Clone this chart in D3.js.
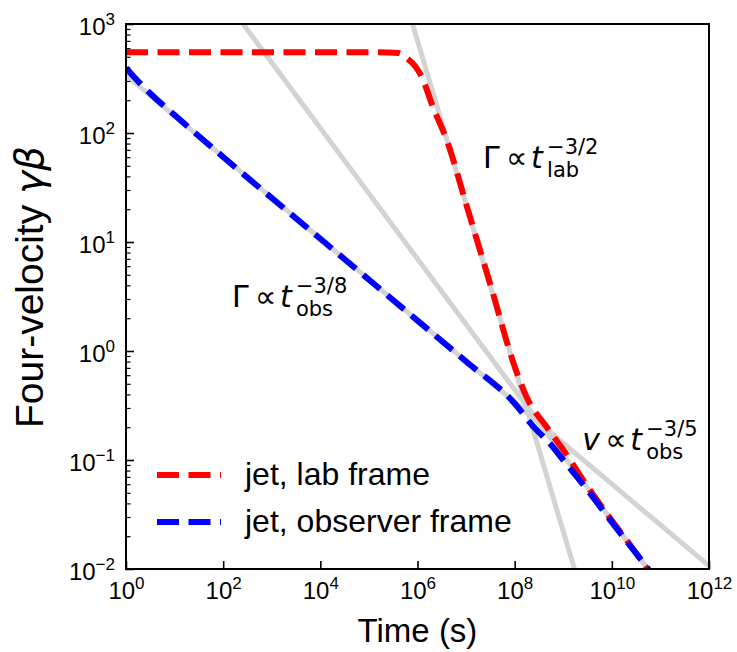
<!DOCTYPE html>
<html>
<head>
<meta charset="utf-8">
<script src="https://cdn.jsdelivr.net/npm/d3@7"></script>
<style>
  body { margin: 0; background: #fff; }
  text { font-family: "Liberation Sans", Arial, sans-serif; fill: #000; }
  .math { font-family: "DejaVu Sans", sans-serif; }
</style>
</head>
<body>
<svg id="chart" width="737" height="652"></svg>
<script>
/* ticks */
const xTicks = [1e0, 1e2, 1e4, 1e6, 1e8, 1e10, 1e12]
const xTickExp = ['0', '2', '4', '6', '8', '10', '12']
const yTicks = [1e-2, 1e-1, 1e0, 1e1, 1e2, 1e3]
const yTickExp = ['−2', '−1', '0', '1', '2', '3']

/* jet, lab frame */
const labTime = [1, 1e3, 1e5, 2.5e5, 4e5, 6.3e5, 8.9e5, 1.23e6, 2e6, 4.2e6, 1e7, 3.2e7, 1e8, 1.8e8, 4.6e8, 1e9, 3.2e9, 1e10, 3.2e10, 6e10, 1e11]
const labBeta = [550, 550, 550, 548, 542, 478, 412, 326, 181, 81, 22.4, 4.0, 0.72, 0.37, 0.2, 0.124, 0.0565, 0.0279, 0.0139, 0.0093, 0.0066]

/* jet, observer frame */
const obsTime = [1, 2, 3.2, 10, 100, 1e4, 1e6, 1e7, 1e8, 2.4e8, 5.6e8, 1e9, 3.2e9, 1e10, 3.2e10, 6e10, 1e11]
const obsBeta = [395, 282, 229, 146, 60.3, 10.7, 1.9, 0.80, 0.33, 0.204, 0.138, 0.1, 0.0525, 0.0269, 0.0138, 0.0096, 0.0069]

/* gray power-law guides: endpoints */
const guideTime = [[1, 1e12], [7.9e5, 1.7e9], [257, 5.5e10]]
const guideBeta = [[340, 0.0107], [1000, 0.01], [1000, 0.01]]

const seriesNames = ['jet, lab frame', 'jet, observer frame']
const seriesColors = ['#ff0000', '#0000ff']

/* annotations: anchor in data coords */
const noteTime = [10 ** 7.35, 10 ** 2.18, 10 ** 9.39]
const noteBeta = [10 ** 1.679, 10 ** 0.404, 10 ** -0.908]
const noteBase = ['Γ', 'Γ', 'v']
const noteSub = ['lab', 'obs', 'obs']
const noteSup = ['−3/2', '−3/8', '−3/5']

const svg = d3.select('#chart')
const mLeft = 126, mRight = 709, mTop = 24, mBottom = 569

const x = d3.scaleLog().domain([1, 1e12]).range([mLeft, mRight])
const y = d3.scaleLog().domain([1e-2, 1e3]).range([mBottom, mTop])

svg.append('defs').append('clipPath').attr('id', 'plotclip')
    .append('rect').attr('x', mLeft).attr('y', mTop)
    .attr('width', mRight - mLeft).attr('height', mBottom - mTop)

const plot = svg.append('g').attr('clip-path', 'url(#plotclip)')

/* gray guide lines */
const guideLine = d3.line().x(d => x(d[0])).y(d => y(d[1]))
guideTime.forEach((tt, i) => {
    plot.append('path')
        .datum(tt.map((t, j) => [t, guideBeta[i][j]]))
        .attr('d', guideLine)
        .attr('fill', 'none')
        .attr('stroke', '#d3d3d3')
        .attr('stroke-width', 5)
})

/* curves */
const curve = d3.line().x(d => x(d[0])).y(d => y(d[1])).curve(d3.curveMonotoneX)
const series = [
    labTime.map((t, i) => [t, labBeta[i]]),
    obsTime.map((t, i) => [t, obsBeta[i]])
]
series.forEach((s, i) => {
    plot.append('path')
        .datum(s)
        .attr('d', curve)
        .attr('fill', 'none')
        .attr('stroke', seriesColors[i])
        .attr('stroke-width', 6)
        .attr('stroke-dasharray', '22,9.5')
})

/* axes */
const xAxis = svg.append('g')
    .attr('transform', `translate(0,${mBottom})`)
    .call(d3.axisBottom(x).tickValues(xTicks).tickSize(-8).tickSizeOuter(0).tickFormat(''))
xAxis.select('.domain').remove()
xAxis.selectAll('.tick line').attr('stroke-width', 1.6)
xAxis.selectAll('.tick').each(function (d, i) {
    const t = d3.select(this).append('text')
        .attr('y', 30).attr('text-anchor', 'middle')
        .style('font-size', '24px')
    t.append('tspan').text('10')
    t.append('tspan').attr('dy', -10).style('font-size', '17px').text(xTickExp[i])
})

const yMinor = []
for (let e = -2; e < 3; e++) for (let k = 2; k < 10; k++) yMinor.push(k * 10 ** e)
const yAxisMinor = svg.append('g')
    .attr('transform', `translate(${mLeft},0)`)
    .call(d3.axisLeft(y).tickValues(yMinor).tickSize(-4.5).tickSizeOuter(0).tickFormat(''))
yAxisMinor.select('.domain').remove()
yAxisMinor.selectAll('.tick line').attr('stroke-width', 1.2)

const yAxis = svg.append('g')
    .attr('transform', `translate(${mLeft},0)`)
    .call(d3.axisLeft(y).tickValues(yTicks).tickSize(-8).tickSizeOuter(0).tickFormat(''))
yAxis.select('.domain').remove()
yAxis.selectAll('.tick line').attr('stroke-width', 1.6)
yAxis.selectAll('.tick').each(function (d, i) {
    const t = d3.select(this).append('text')
        .attr('x', -11).attr('y', 10).attr('text-anchor', 'end')
        .style('font-size', '24px')
    t.append('tspan').text('10')
    t.append('tspan').attr('dy', -10).style('font-size', '17px').text(yTickExp[i])
})

/* frame */
svg.append('rect')
    .attr('x', mLeft).attr('y', mTop)
    .attr('width', mRight - mLeft).attr('height', mBottom - mTop)
    .attr('fill', 'none').attr('stroke', '#000').attr('stroke-width', 2)

/* axis labels */
svg.append('text')
    .attr('x', (mLeft + mRight) / 2).attr('y', 642)
    .attr('text-anchor', 'middle')
    .style('font-size', '33px')
    .text('Time (s)')

const ylab = svg.append('text')
    .attr('transform', `translate(43,287) rotate(-90)`)
    .attr('text-anchor', 'middle')
    .style('font-size', '39px')
ylab.append('tspan').text('Four-velocity ')
ylab.append('tspan').attr('class', 'math').style('font-style', 'italic').text('γβ')

/* power-law notes */
noteTime.forEach((t, i) => {
    const px = x(t), py = y(noteBeta[i])
    const g = svg.append('text').attr('class', 'math').style('font-size', '30px')
    g.append('tspan').attr('x', px).attr('y', py)
        .style('font-style', noteBase[i] === 'v' ? 'italic' : 'normal').text(noteBase[i])
    g.append('tspan').attr('x', px + 23).attr('y', py).text('∝')
    g.append('tspan').attr('x', px + 48).attr('y', py).style('font-style', 'italic').text('t')
    g.append('tspan').attr('x', px + 64).attr('y', py - 14).style('font-size', '21px').text(noteSup[i])
    g.append('tspan').attr('x', px + 64).attr('y', py + 9).style('font-size', '21px').text(noteSub[i])
})

/* legend */
seriesNames.forEach((name, i) => {
    const ly = 475 + i * 47
    svg.append('line')
        .attr('x1', 157).attr('x2', 221).attr('y1', ly).attr('y2', ly)
        .attr('stroke', seriesColors[i]).attr('stroke-width', 6)
        .attr('stroke-dasharray', '22,9.5')
    svg.append('text')
        .attr('x', 245).attr('y', ly + 10)
        .style('font-size', '32px')
        .text(name)
})
</script>
</body>
</html>
